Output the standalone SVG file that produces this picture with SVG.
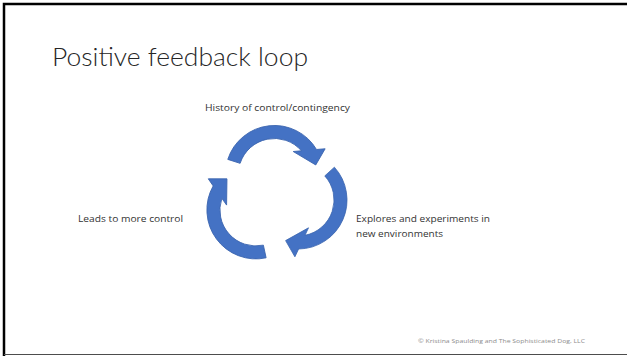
<svg xmlns="http://www.w3.org/2000/svg" width="627" height="356" viewBox="0 0 627 356">
  <defs>
    <style>
      .title { font-family: Lato, "Open Sans", "Liberation Sans", sans-serif; font-size: 25px; fill: #262626; font-weight: 300; }
      .label { font-family: "Open Sans", "Liberation Sans", sans-serif; font-size: 8.6px; fill: #333333; }
      .foot { font-family: "Open Sans", "Liberation Sans", sans-serif; font-size: 6px; fill: #8c8c8c; }
      .arrow { fill: #4472C4; stroke: #3A64AE; stroke-width: 0.8; stroke-linejoin: miter; }
    </style>
    <!-- curved arrow: arc band around (298,200), tail at upper right, head at the bottom -->
    <path id="curved-arrow" class="arrow"
          d="M 334.4,167.2 A 49 49 0 0 1 298.6,249 L 294.9,256.8 L 285.6,240.6 L 308.5,227.8 L 305,235.3 A 36 36 0 0 0 324.8,175.9 Z"/>
  </defs>

  <rect x="0" y="0" width="627" height="356" fill="#ffffff"/>
  <!-- slide frame -->
  <path d="M 4,700 L 4,4 L 700,4" fill="none" stroke="#000000" stroke-width="2.5"/>
  <line x1="4" y1="354.5" x2="627" y2="354.5" stroke="#4d4d4d" stroke-width="1.2"/>

  <text class="title" x="52" y="66" textLength="256" lengthAdjust="spacingAndGlyphs">Positive feedback loop</text>

  <g id="connectors">
    <use href="#curved-arrow"/>
    <use href="#curved-arrow" transform="rotate(120 274.1 192.8)"/>
    <use href="#curved-arrow" transform="translate(6 6) rotate(240 274.1 192.8)"/>
  </g>

  <g id="node-history">
    <text class="label" x="205" y="111" textLength="145" lengthAdjust="spacingAndGlyphs">History of control/contingency</text>
  </g>
  <g id="node-explores">
    <text class="label" x="356" y="222" textLength="134" lengthAdjust="spacingAndGlyphs">Explores and experiments in</text>
    <text class="label" x="356" y="237" textLength="87" lengthAdjust="spacingAndGlyphs">new environments</text>
  </g>
  <g id="node-leads">
    <text class="label" x="78" y="222" textLength="105" lengthAdjust="spacingAndGlyphs">Leads to more control</text>
  </g>

  <text class="foot" x="418" y="343" textLength="167" lengthAdjust="spacingAndGlyphs">© Kristina Spaulding and The Sophisticated Dog, LLC</text>
</svg>
